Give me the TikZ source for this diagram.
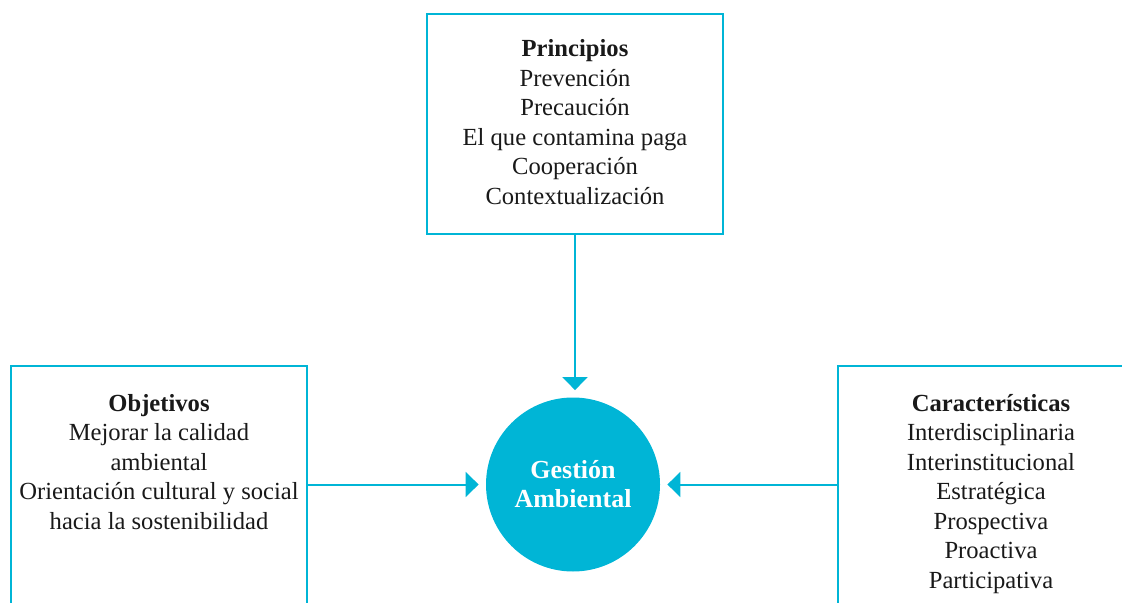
\documentclass[tikz,border=0pt]{standalone}
\usepackage{fontspec}
\setmainfont{Liberation Serif}
\usetikzlibrary{arrows.meta}
\definecolor{gcyan}{RGB}{0,181,214}
\begin{document}
\begin{tikzpicture}[x=0.5pt,y=-0.5pt,
  box/.style={draw=gcyan,line width=1pt,rectangle,inner sep=0pt},
  lbl/.style={align=center,font=\fontsize{12.3}{14.75}\selectfont,text=black!90,inner sep=0pt},
  conn/.style={draw=gcyan,line width=1pt,-{Triangle[width=12.5pt,length=6.5pt]},shorten >=3.5pt},
  hub/.style={circle,fill=gcyan,minimum size=87pt,inner sep=0pt,align=center,text=white,font=\fontsize{13}{14.5}\selectfont\bfseries}]
\useasboundingbox (0,0) rectangle (1122,603);
\clip (0,0) rectangle (1122,603);
\node[box,minimum width=148pt,minimum height=110pt] (P) at (575,124) {};
\node[lbl] (Pt) at (575,122) {\textbf{Principios}\\Prevención\\Precaución\\El que contamina paga\\Cooperación\\Contextualización};
\node[box,minimum width=148pt,minimum height=147pt] (O) at (159,513) {};
\node[lbl] (Ot) at (159,462) {\textbf{Objetivos}\\Mejorar la calidad\\ambiental\\Orientación cultural y social\\hacia la sostenibilidad};
\node[box,minimum width=153pt,minimum height=147pt] (C) at (991,513) {};
\node[lbl] (Ct) at (991,494) {\textbf{Características}\\Interdisciplinaria\\Interinstitucional\\Estratégica\\Prospectiva\\Proactiva\\Participativa};
\node[hub] (G) at (573,484.5) {Gestión\\Ambiental};
\draw[conn] (P.south) -- (P.south |- G.north);
\draw[conn] (O.east |- G) -- (G);
\draw[conn] (C.west |- G) -- (G);
\end{tikzpicture}
\end{document}
